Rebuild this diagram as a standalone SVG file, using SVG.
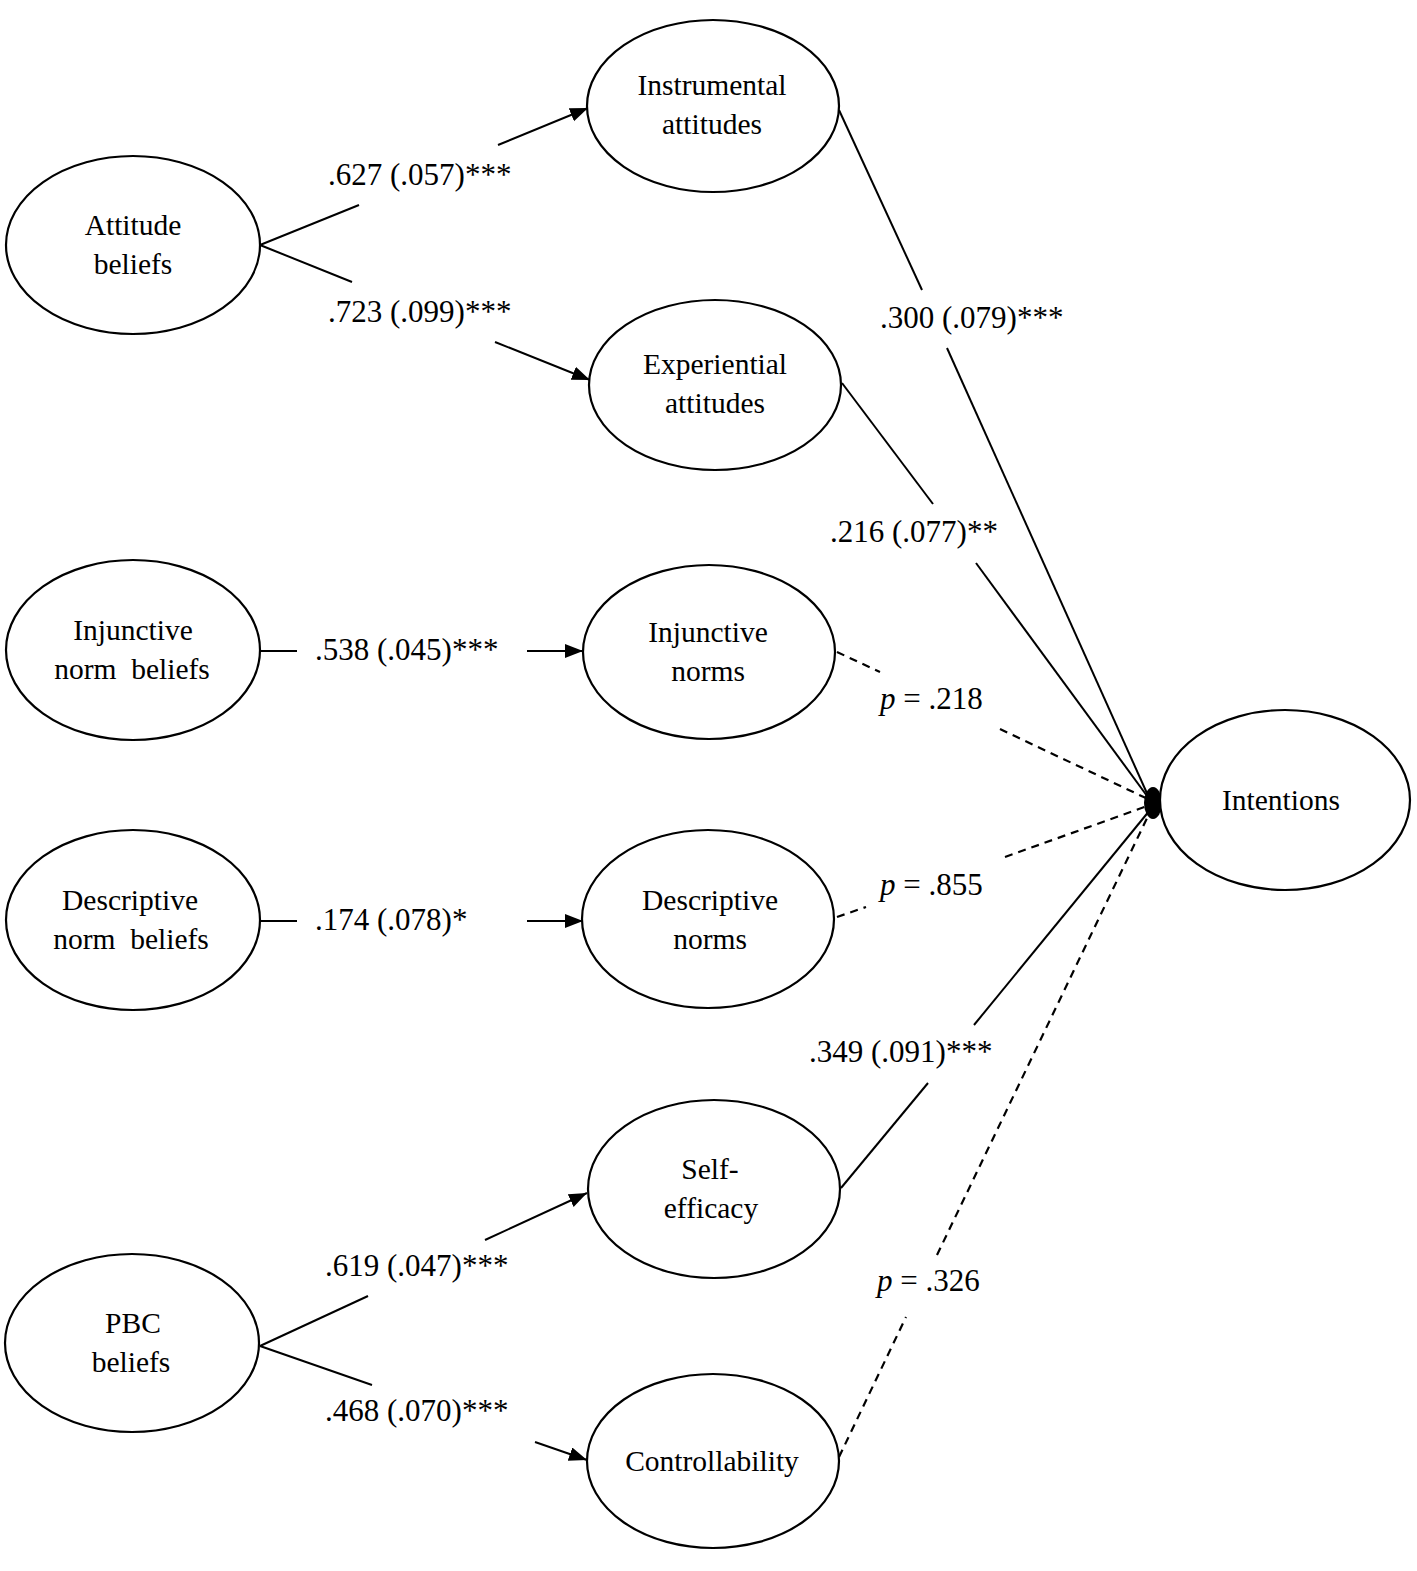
<svg xmlns="http://www.w3.org/2000/svg" width="1417" height="1571" viewBox="0 0 1417 1571">
<style>
.node ellipse{fill:#fff;stroke:#000;stroke-width:2.2}
text{font-family:"Liberation Serif","Times New Roman",serif;font-size:29.5px;fill:#000}
.nl{text-anchor:middle;white-space:pre}
.lbl{font-size:31px}
.c line{stroke:#000;stroke-width:2;fill:none}
.c .d{stroke-dasharray:8 6;stroke-width:2.2}
</style>
<defs>
<marker id="ah" markerUnits="userSpaceOnUse" markerWidth="20" markerHeight="16" refX="18" refY="7" orient="auto">
<path d="M0,0 L18,7 L0,14 Z" fill="#000"/>
</marker>
</defs>
<rect width="1417" height="1571" fill="#fff"/>
<g class="c" id="connectors">
<line x1="260" y1="245" x2="359" y2="205"/>
<line x1="498" y1="145" x2="588" y2="108" marker-end="url(#ah)"/>
<line x1="260" y1="245" x2="352" y2="282"/>
<line x1="495" y1="342" x2="590" y2="380" marker-end="url(#ah)"/>
<line x1="260" y1="651" x2="297" y2="651"/>
<line x1="527" y1="651" x2="583" y2="651" marker-end="url(#ah)"/>
<line x1="260" y1="921" x2="297" y2="921"/>
<line x1="527" y1="921" x2="583" y2="921" marker-end="url(#ah)"/>
<line x1="260" y1="1346" x2="368" y2="1296"/>
<line x1="485" y1="1240" x2="587" y2="1193" marker-end="url(#ah)"/>
<line x1="260" y1="1346" x2="372" y2="1385"/>
<line x1="535" y1="1442" x2="587" y2="1460" marker-end="url(#ah)"/>
<line x1="839" y1="110" x2="922" y2="290"/>
<line x1="947" y1="348" x2="1150" y2="800"/>
<line x1="842" y1="383" x2="933" y2="504"/>
<line x1="976" y1="563" x2="1150" y2="800"/>
<line class="d" x1="837" y1="652" x2="880" y2="672"/>
<line class="d" x1="1000" y1="729" x2="1150" y2="800"/>
<line class="d" x1="837" y1="917" x2="866" y2="907"/>
<line class="d" x1="1005" y1="857" x2="1150" y2="805"/>
<line x1="841" y1="1188" x2="928" y2="1083"/>
<line x1="974" y1="1025" x2="1150" y2="810"/>
<line class="d" x1="839" y1="1457" x2="906" y2="1317"/>
<line class="d" x1="937" y1="1255" x2="1150" y2="812"/>
<ellipse cx="1153" cy="803" rx="9" ry="16" fill="#000"/>
</g>
<g id="n-attitude-beliefs" class="node"><ellipse cx="133" cy="245" rx="127" ry="89"/><text class="nl" x="133" y="235">Attitude</text><text class="nl" x="133" y="274">beliefs</text></g>
<g id="n-instrumental" class="node"><ellipse cx="713" cy="106" rx="126" ry="86"/><text class="nl" x="712" y="95">Instrumental</text><text class="nl" x="712" y="134">attitudes</text></g>
<g id="n-experiential" class="node"><ellipse cx="715" cy="385" rx="126" ry="85"/><text class="nl" x="715" y="374">Experiential</text><text class="nl" x="715" y="413">attitudes</text></g>
<g id="n-injunctive-beliefs" class="node"><ellipse cx="133" cy="650" rx="127" ry="90"/><text class="nl" x="133" y="640">Injunctive</text><text class="nl" x="132" y="679">norm  beliefs</text></g>
<g id="n-injunctive-norms" class="node"><ellipse cx="709" cy="652" rx="126" ry="87"/><text class="nl" x="708" y="642">Injunctive</text><text class="nl" x="708" y="681">norms</text></g>
<g id="n-intentions" class="node"><ellipse cx="1285" cy="800" rx="125" ry="90"/><text class="nl" x="1281" y="810">Intentions</text></g>
<g id="n-descriptive-beliefs" class="node"><ellipse cx="133" cy="920" rx="127" ry="90"/><text class="nl" x="130" y="910">Descriptive</text><text class="nl" x="131" y="949">norm  beliefs</text></g>
<g id="n-descriptive-norms" class="node"><ellipse cx="708" cy="919" rx="126" ry="89"/><text class="nl" x="710" y="910">Descriptive</text><text class="nl" x="710" y="949">norms</text></g>
<g id="n-self-efficacy" class="node"><ellipse cx="714" cy="1189" rx="126" ry="89"/><text class="nl" x="710" y="1179">Self-</text><text class="nl" x="711" y="1218">efficacy</text></g>
<g id="n-pbc-beliefs" class="node"><ellipse cx="132" cy="1343" rx="127" ry="89"/><text class="nl" x="133" y="1333">PBC</text><text class="nl" x="131" y="1372">beliefs</text></g>
<g id="n-controllability" class="node"><ellipse cx="713" cy="1461" rx="126" ry="87"/><text class="nl" x="712" y="1471">Controllability</text></g>
<g id="labels">
<text class="lbl" x="328" y="185">.627 (.057)***</text>
<text class="lbl" x="328" y="322">.723 (.099)***</text>
<text class="lbl" x="880" y="328">.300 (.079)***</text>
<text class="lbl" x="830" y="542">.216 (.077)**</text>
<text class="lbl" x="315" y="660">.538 (.045)***</text>
<text class="lbl" x="880" y="709"><tspan font-style="italic">p</tspan> = .218</text>
<text class="lbl" x="315" y="930">.174 (.078)*</text>
<text class="lbl" x="880" y="895"><tspan font-style="italic">p</tspan> = .855</text>
<text class="lbl" x="809" y="1062">.349 (.091)***</text>
<text class="lbl" x="325" y="1276">.619 (.047)***</text>
<text class="lbl" x="877" y="1291"><tspan font-style="italic">p</tspan> = .326</text>
<text class="lbl" x="325" y="1421">.468 (.070)***</text>
</g>
</svg>
